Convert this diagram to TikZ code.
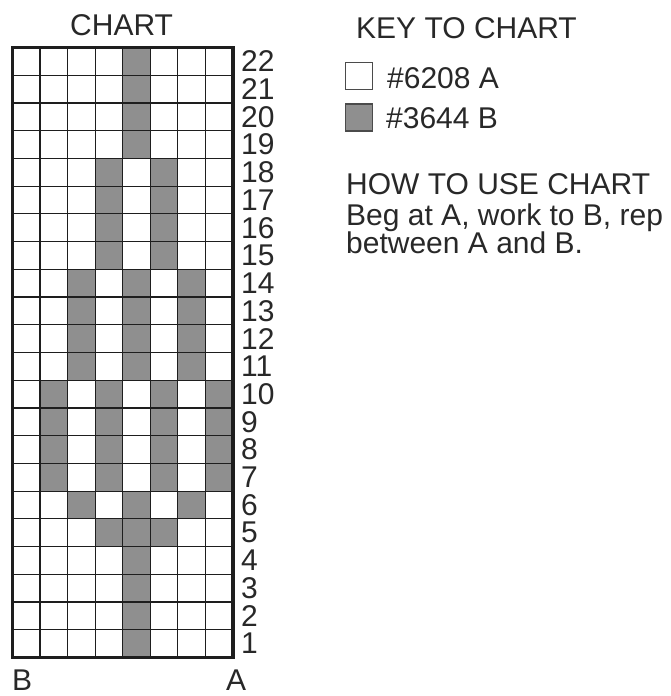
\documentclass[tikz,border=0pt]{standalone}
\usepackage{fontspec}
\setmainfont{Liberation Sans}
\definecolor{cellgray}{RGB}{143,143,143}
\definecolor{ink}{RGB}{40,40,40}
\definecolor{gridink}{RGB}{30,30,30}
\begin{document}
\begin{tikzpicture}[x=1pt,y=-1pt,
  txt/.style={font=\fontsize{30}{34}\selectfont, text=ink, inner sep=0pt},
  keybox/.style={draw=gridink!80, line width=1.3pt, minimum size=27pt, inner sep=0pt},
  gridline/.style={draw=gridink, line width=1.2pt},
  border/.style={draw=gridink, line width=3.6pt}]
\useasboundingbox (0,0) rectangle (671,696);
\def\gx{12.5}\def\gy{47.5}\def\cw{27.5625}\def\rh{27.7273}
% shaded cells (row/column, row 1 at bottom, column 1 at left)
\foreach \r/\c in {22/5,21/5,20/5,19/5,
  18/4,18/6,17/4,17/6,16/4,16/6,15/4,15/6,
  14/3,14/5,14/7,13/3,13/5,13/7,12/3,12/5,12/7,11/3,11/5,11/7,
  10/2,10/4,10/6,10/8,9/2,9/4,9/6,9/8,8/2,8/4,8/6,8/8,7/2,7/4,7/6,7/8,
  6/3,6/5,6/7,5/4,5/5,5/6,
  4/5,3/5,2/5,1/5}
  \fill[cellgray] ({\gx+(\c-1)*\cw},{\gy+(22-\r)*\rh}) rectangle ++(\cw,\rh);
% grid lines
\foreach \i in {1,...,7}
  \draw[gridline] ({\gx+\i*\cw},\gy) -- ++(0,610);
\foreach \j in {1,...,21}
  \draw[gridline] (\gx,{\gy+\j*\rh}) -- ++(220.5,0);
\draw[border] (\gx,\gy) rectangle ++(220.5,610);
% row numbers
\foreach \r in {1,...,22}
  \node[txt, anchor=west] (row\r) at (241,{\gy+(22-\r+0.5)*\rh}) {\r};
% titles and labels
\node[txt, anchor=base west] (title) at (70,35) {CHART};
\node[txt, anchor=base west] (labB) at (12,690) {B};
\node[txt, anchor=base west] (labA) at (226,690) {A};
\node[txt, anchor=base west] (key) at (356,38) {KEY TO CHART};
\node[keybox, fill=white] (boxA) at (359,76) {};
\node[keybox, fill=cellgray] (boxB) at (359,117.5) {};
\node[txt, anchor=base west] (keyA) at (387,88) {\#6208 A};
\node[txt, anchor=base west] (keyB) at (386,128) {\#3644 B};
\node[txt, anchor=base west] (how) at (346,194) {HOW TO USE CHART};
\node[txt, anchor=base west] (how1) at (346,225) {Beg at A, work to B, rep};
\node[txt, anchor=base west] (how2) at (346,253) {between A and B.};
\end{tikzpicture}
\end{document}
